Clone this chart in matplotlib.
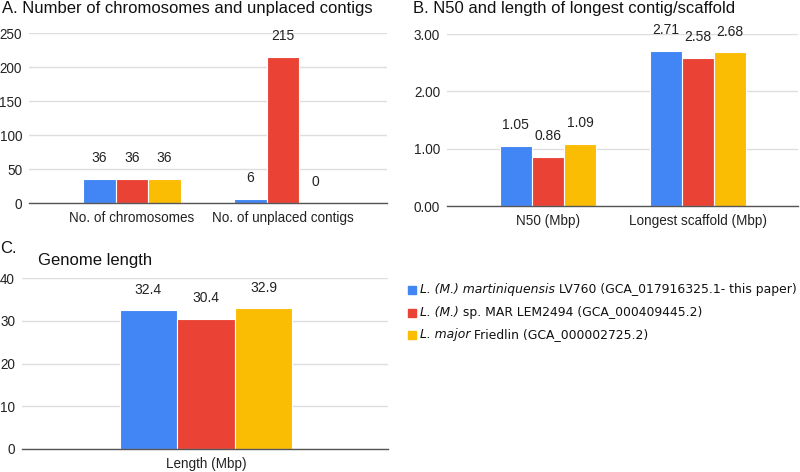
import matplotlib
matplotlib.use("Agg")
import matplotlib.pyplot as plt
from matplotlib.patches import Rectangle
import numpy as np

# ---- data ----
series_italic = ["L. (M.) martiniquensis", "L. (M.)", "L. major"]
series_rest = [" LV760 (GCA_017916325.1- this paper)",
               " sp. MAR LEM2494 (GCA_000409445.2)",
               " Friedlin (GCA_000002725.2)"]
colors = ["#4285F4", "#EA4335", "#FBBC04"]

a_categories = ["No. of chromosomes", "No. of unplaced contigs"]
a_values = [[36, 6], [36, 215], [36, 0]]
a_ticks = [0, 50, 100, 150, 200, 250]

b_categories = ["N50 (Mbp)", "Longest scaffold (Mbp)"]
b_values = [[1.05, 2.71], [0.86, 2.58], [1.09, 2.68]]
b_ticks = [0.0, 1.0, 2.0, 3.0]

c_categories = ["Length (Mbp)"]
c_values = [[32.4], [30.4], [32.9]]
c_ticks = [0, 10, 20, 30, 40]

FONT = "Liberation Sans"
W, H = 800, 472
fig = plt.figure(figsize=(W / 100, H / 100), dpi=100)


def px_axes(left, right, top, bottom):
    return fig.add_axes([left / W, 1 - bottom / H, (right - left) / W, (bottom - top) / H])


def draw_panel(ax, cats, vals, ticks, fmt, tfmt, xlim, width):
    x = np.arange(len(cats))
    n = len(vals)
    for i, v in enumerate(vals):
        pos = x + (i - (n - 1) / 2) * width
        ax.bar(pos, v, width=width, color=colors[i], edgecolor="white",
               linewidth=0.8, zorder=3)
        for p, val in zip(pos, v):
            ax.annotate(fmt.format(val), (p, val), xytext=(0, 15), textcoords="offset points",
                        ha="center", va="center", fontsize=10, family=FONT, color="#222222")
    ax.set_ylim(ticks[0], ticks[-1])
    ax.set_yticks(ticks)
    ax.set_yticklabels([tfmt.format(t) for t in ticks], family=FONT, fontsize=9.75, color="#222222")
    ax.set_xticks(x)
    ax.set_xticklabels(cats, family=FONT, fontsize=9.75, color="#222222")
    ax.set_xlim(*xlim)
    ax.tick_params(axis="both", length=0)
    ax.tick_params(axis="y", pad=5)
    ax.tick_params(axis="x", pad=6)
    for s in ["top", "right", "left"]:
        ax.spines[s].set_visible(False)
    ax.spines["bottom"].set_color("#555555")
    ax.spines["bottom"].set_linewidth(1.0)
    ax.spines["bottom"].set_zorder(4)
    ax.grid(axis="y", color="#dedede", linewidth=1.0, zorder=0)
    ax.set_axisbelow(True)


# Panel A
axA = px_axes(29, 387, 33, 203)
draw_panel(axA, a_categories, a_values, a_ticks, "{:d}", "{:d}",
           ((29 - 132) / 151, (387 - 132) / 151), 0.215)
fig.text(2 / W, 1 - 8 / H, "A. Number of chromosomes and unplaced contigs",
         family=FONT, fontsize=12, va="center", ha="left", color="#111111")

# Panel B
axB = px_axes(447, 798, 34, 206)
draw_panel(axB, b_categories, b_values, b_ticks, "{:.2f}", "{:.2f}",
           ((447 - 548) / 150, (798 - 548) / 150), 0.215)
fig.text(413 / W, 1 - 8 / H, "B. N50 and length of longest contig/scaffold",
         family=FONT, fontsize=12, va="center", ha="left", color="#111111")

# Panel C
axC = px_axes(22, 388, 278, 449)
draw_panel(axC, c_categories, c_values, c_ticks, "{:.1f}", "{:d}",
           ((22 - 206) / 262, (388 - 206) / 262), 0.22)
fig.text(0 / W, 1 - 248 / H, "C.", family=FONT, fontsize=12, va="center", ha="left", color="#111111")
fig.text(38 / W, 1 - 261 / H, "Genome length", family=FONT, fontsize=12, va="center", ha="left",
         color="#111111")

# Legend (manual, for mixed italic / upright text)
renderer = fig.canvas.get_renderer()
row_y = [290, 312.5, 334.5]
for i in range(3):
    yc = row_y[i]
    fig.patches.append(Rectangle((408 / W, 1 - (yc + 4) / H), 8 / W, 8 / H,
                                 transform=fig.transFigure, color=colors[i], figure=fig))
    t1 = fig.text(420 / W, 1 - yc / H, series_italic[i], family="DejaVu Sans", style="italic",
                  fontsize=8.9, va="center", ha="left", color="#111111")
    bb = t1.get_window_extent(renderer=renderer)
    fig.text(bb.x1 / (W), 1 - yc / H, series_rest[i], family="DejaVu Sans",
             fontsize=8.9, va="center", ha="left", color="#111111")

fig.savefig("out.png", dpi=100)
